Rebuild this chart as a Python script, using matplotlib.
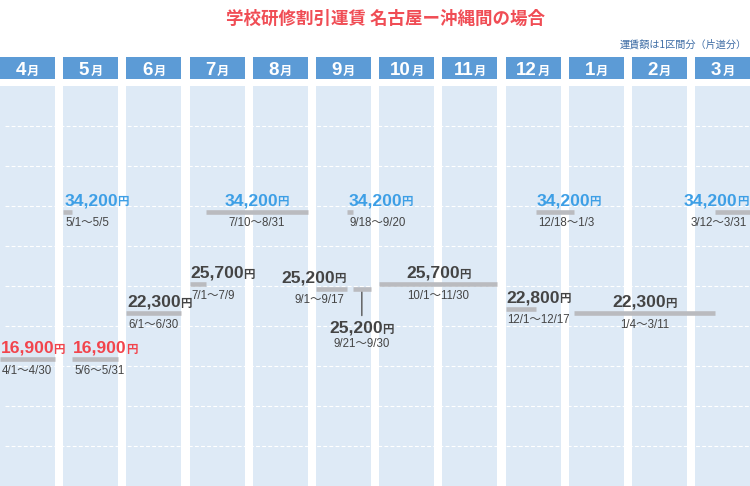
import matplotlib.pyplot as plt
from matplotlib import font_manager
from matplotlib.patches import Rectangle
from matplotlib.transforms import offset_copy, blended_transform_factory

# --- data ---
MONTHS = [4, 5, 6, 7, 8, 9, 10, 11, 12, 1, 2, 3]
MONTH_DAYS = [30, 31, 30, 31, 31, 30, 31, 30, 31, 31, 28, 31]
PERIOD_STARTS = ["4/1", "5/1", "5/6", "6/1", "7/1", "7/10", "9/1",
                 "9/18", "9/21", "10/1", "12/1", "12/18", "1/4", "3/12"]
PERIOD_ENDS = ["4/30", "5/5", "5/31", "6/30", "7/9", "8/31", "9/17",
               "9/20", "9/30", "11/30", "12/17", "1/3", "3/11", "3/31"]
FARES = [16900, 34200, 16900, 22300, 25700, 34200, 25200,
         34200, 25200, 25700, 22800, 34200, 22300, 34200]
TITLE = "学校研修割引運賃 名古屋ー沖縄間の場合"
NOTE = "運賃額は1区間分（片道分）"

# label placement (style only)
ALIGNS = ["left", "left", "left", "left", "left", "center", "right",
          "left", "below", "center", "left", "left", "center", "right"]

PITCH, COL_W = 63.2, 55
BG = "#deeaf6"
HEAD = "#5c9bd6"
BAR = "#babbbf"
DARK = "#444444"
FARE_COLORS = {16900: "#f2444c", 34200: "#3d9fe6"}

names = {f.name for f in font_manager.fontManager.ttflist}
NARROW = "Liberation Sans Narrow" if "Liberation Sans Narrow" in names else "Liberation Sans"
CJK = "Noto Sans CJK JP"


def date_x(s, end=False):
    m, d = (int(v) for v in s.split("/"))
    i = MONTHS.index(m)
    n = MONTH_DAYS[i]
    frac = d / n if end else (d - 1) / n
    return i * PITCH + frac * COL_W


fig = plt.figure(figsize=(7.5, 4.86), dpi=100)
ax = fig.add_axes([0, 0, 1, 400 / 486])
ax.set_xlim(0, 750)
ax.set_ylim(2000, 49000)
ax.axis("off")
renderer = fig.canvas.get_renderer()

# month columns and headers
head_tr = blended_transform_factory(ax.transData, fig.transFigure)
for i, m in enumerate(MONTHS):
    x0 = i * PITCH
    ax.axvspan(x0, x0 + COL_W, color=BG, lw=0, zorder=0)
    fig.patches.append(Rectangle((x0, (486 - 79) / 486), COL_W, 22 / 486,
                                 transform=head_tr, color=HEAD, lw=0, zorder=1))
    t1 = fig.text(0, 0, str(m), fontsize=13.5, fontweight="bold", family=NARROW,
                  color="white", zorder=5)
    t2 = fig.text(0, 0, "月", fontsize=8.8, fontweight="bold", family=CJK,
                  color="white", zorder=5)
    w1 = t1.get_window_extent(renderer).width
    w2 = t2.get_window_extent(renderer).width
    left = -(w1 + w2 + 1) / 2
    ybase = (486 - 75) / 486
    for t, dx in ((t1, left), (t2, left + w1 + 1)):
        t.set_position((x0 + COL_W / 2, ybase))
        t.set_transform(offset_copy(head_tr, fig=fig, x=dx, y=0, units="dots"))
        t.set_va("baseline")

# dashed white gridlines
for f in [0.1, 0.2, 0.3, 0.4, 0.5, 0.6, 0.7, 0.8, 0.9]:
    ax.plot([5, 750], [f, f], transform=blended_transform_factory(ax.transData, ax.transAxes),
            color="white", lw=0.8, ls=(0, (3.5, 2)), zorder=1)


def fare_label(x, y, value, color, align, dy):
    t1 = ax.text(0, 0, f"{value:,}", fontsize=12.6, fontweight="bold",
                 family="Liberation Sans", color=color, va="baseline", zorder=5)
    t2 = ax.text(0, 0, "円", fontsize=8.3, fontweight="bold", family=CJK,
                 color=color, va="baseline", zorder=5)
    w1 = t1.get_window_extent(renderer).width
    w2 = t2.get_window_extent(renderer).width
    total = w1 + w2 - 1
    left = {"left": 1, "center": -total / 2, "right": -total - 2}[align]
    for t, dx in ((t1, left), (t2, left + w1 - 1)):
        t.set_position((x, y))
        t.set_transform(offset_copy(ax.transData, fig=fig, x=dx, y=dy, units="dots"))


for s, e, fare, align in zip(PERIOD_STARTS, PERIOD_ENDS, FARES, ALIGNS):
    xs, xe = date_x(s), date_x(e, end=True)
    ax.plot([xs, xe], [fare, fare], color=BAR, lw=3.3, solid_capstyle="butt", zorder=4)
    color = FARE_COLORS.get(fare, DARK)
    label = f"{s}～{e}"
    if align == "below":
        xc = (xs + xe) / 2
        ax.annotate("", xy=(xc, fare), xytext=(0, -27), textcoords="offset pixels",
                    arrowprops=dict(arrowstyle="-", color="#555555", lw=1,
                                    shrinkA=0, shrinkB=0), zorder=3)
        fare_label(xc, fare, fare, color, "center", -44)
        ax.annotate(label, xy=(xc, fare), xytext=(0, -58), textcoords="offset pixels",
                    ha="center", va="baseline", fontsize=8.3, color=DARK,
                    family=["Liberation Sans", CJK], zorder=5)
        continue
    fare_label({"left": xs, "center": (xs + xe) / 2, "right": xe}[align],
               fare, fare, color, align, 6.5)
    ax_x = {"left": xs, "center": (xs + xe) / 2, "right": xe}[align]
    off = {"left": 2, "center": 0, "right": -3}[align]
    ax.annotate(label, xy=(ax_x, fare), xytext=(off, -14.5), textcoords="offset pixels",
                ha=align, va="baseline", fontsize=8.3, color=DARK,
                family=["Liberation Sans", CJK], zorder=5)

fig.text(385 / 750, 1 - 18.5 / 486, TITLE, ha="center", va="center", fontsize=12.6,
         color="#f04d55", family=CJK, fontweight="bold")
fig.text(747 / 750, 1 - 44.5 / 486, NOTE, ha="right", va="center", fontsize=7.3,
         color="#3e6da5", family=CJK)

fig.savefig("out.png", dpi=100)
